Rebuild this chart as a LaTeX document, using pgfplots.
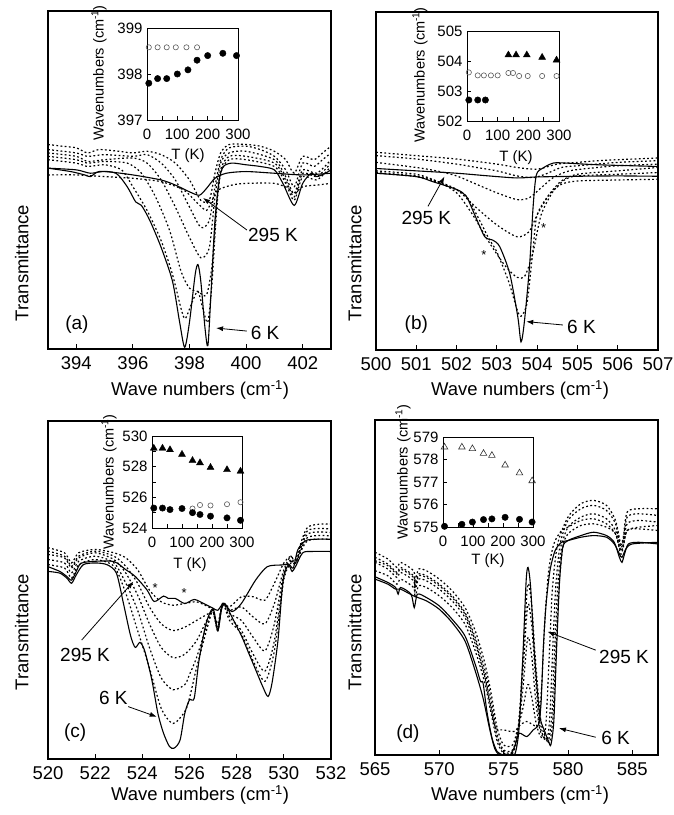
\documentclass[border=0pt]{standalone}
\usepackage{fontspec}
\setmainfont{Liberation Sans}
\usepackage{pgfplots}
\pgfplotsset{compat=1.18}
\usetikzlibrary{arrows.meta}

\tikzset{
  sol/.style={black, line width=1.1pt, mark=none, smooth, tension=0.45},
  dt/.style={black, line width=1.2pt, mark=none, dash pattern=on 1.8pt off 2.4pt, smooth, tension=0.45},
  ann/.style={font=\fontsize{19}{21}\selectfont},
  arr/.style={-{Latex[length=7pt,width=5pt]}, line width=0.8pt},
  star/.style={font=\fontsize{13}{14}\selectfont},
}
\pgfplotsset{
  mainax/.style={
    scale only axis, ymin=0, ymax=100, ytick=\empty,
    xtick pos=left, tick align=inside, major tick length=5pt,
    axis line style={line width=1.1pt},
    every tick/.style={black, line width=0.9pt},
    tick label style={font=\fontsize{18.5}{20}\selectfont},
    xticklabel style={yshift=-4.5pt},
    /pgf/number format/assume math mode=true,
    /pgf/number format/1000 sep={},
    clip mode=individual,
  },
  inset/.style={
    scale only axis, xmin=0, xmax=300, xtick={0,100,200,300}, minor xtick={50,150,250},
    xtick pos=left, ytick pos=left, tick align=inside,
    major tick length=4pt, minor tick length=4pt,
    axis line style={line width=0.9pt},
    every tick/.style={black, line width=0.7pt},
    tick label style={font=\fontsize{15}{16}\selectfont},
    xticklabel style={yshift=-5pt},
    yticklabel style={xshift=-1pt},
    /pgf/number format/assume math mode=true,
    /pgf/number format/1000 sep={},
    clip=false,
  },
  fc/.style={only marks, mark=*, mark size=3.2pt, black},
  oc/.style={only marks, mark=o, mark size=2.6pt, black!65, mark options={line width=0.6pt}},
  ft/.style={only marks, mark=triangle*, mark size=4pt, black},
  ot/.style={only marks, mark=triangle, mark size=3.8pt, black!80, mark options={line width=0.6pt}},
}

\begin{document}
\begin{tikzpicture}
\path[use as bounding box] (0pt,0pt) rectangle (673pt,815pt);

% ================= (a) =================
\begin{axis}[mainax, at={(48pt,466pt)}, anchor=south west, width=283pt, height=338pt,
  xmin=393, xmax=403, xtick={394,396,398,400,402}]
\addplot[sol] coordinates {(393,53.5)(393.8,52.5)(394.3,51.5)(394.5,51)(394.8,52.5)(395.4,52)(395.8,48)(396.1,43.5)(396.3,42.5)(396.6,38)(397.0,30)(397.4,20)(397.65,8)(397.83,0.5)(398.0,8)(398.2,22)(398.3,25)(398.4,20)(398.55,6)(398.65,1)(398.75,15)(398.9,38)(399.05,50)(399.2,54)(399.5,55)(400.0,54.5)(400.5,54)(401.0,53)(401.3,49)(401.7,42.5)(402.0,49)(402.3,52)(402.5,51)(402.8,52)(403,53)};
\addplot[sol] coordinates {(393,53.5)(394,53)(394.5,52)(395,52.5)(396,51.5)(397,50)(397.5,48.5)(398,46.5)(398.35,45.5)(398.6,47.5)(398.9,50.5)(399.3,52)(400,52.5)(401,52)(402,51.5)(403,52)};
\addplot[dt] coordinates {(393,60.5)(393.5,60)(394,59.5)(394.4,58)(394.8,59)(395.5,58.5)(396,58)(396.5,58.5)(397,57.5)(397.5,55)(398,50)(398.4,44)(398.7,44)(398.9,52)(399.1,58)(399.4,60.5)(400,60.5)(400.5,60)(401,58.5)(401.4,56)(401.7,52)(402,57)(402.4,56)(402.7,58)(403,60)};
\addplot[dt] coordinates {(393,59)(394,58)(394.4,57)(395,57.5)(396,57)(396.5,57.5)(397,55)(397.5,50)(398,42)(398.4,36)(398.7,38)(398.9,48)(399.1,56)(399.4,59.5)(400,60)(400.5,59)(401,57)(401.4,53)(401.7,48)(402,55)(402.4,54)(402.7,56)(403,58)};
\addplot[dt] coordinates {(393,58)(394,57)(394.4,55.5)(395,56)(396,56.5)(396.5,55)(397,50)(397.5,42)(398,33)(398.4,27)(398.7,30)(398.9,45)(399.1,55)(399.4,58)(400,58.5)(401,56)(401.4,51)(401.7,46)(402,53)(402.5,52)(403,56)};
\addplot[dt] coordinates {(393,57)(394,56)(394.4,55)(395,55.5)(395.8,55)(396.3,52)(396.8,45)(397.3,35)(397.7,23)(398.0,18)(398.3,17)(398.6,16)(398.8,25)(398.95,42)(399.1,53)(399.4,57)(400,57)(401,55)(401.4,50)(401.7,45)(402,52)(402.5,51)(403,55)};
\addplot[dt] coordinates {(393,56)(394,55)(394.4,54)(395,54.5)(395.6,53)(396,48)(396.5,41)(397,32)(397.4,22)(397.7,12)(397.85,9)(398.1,14)(398.3,17)(398.5,11)(398.65,8)(398.8,20)(398.95,40)(399.1,52)(399.4,56)(400,56)(401,54)(401.4,49)(401.7,44)(402,51)(402.5,50)(403,54)};
\addplot[dt] coordinates {(393,51.5)(394,51.5)(395,51)(396,50.5)(397,49.5)(397.8,47)(398.3,43)(398.6,41)(398.8,44)(399.0,47)(399.5,48.5)(400,49)(401,49)(401.5,47.5)(401.7,46)(402,48)(402.5,48.5)(403,49)};
\node[ann] at (axis cs:394.02,7.1) {(a)};
\node[ann] at (axis cs:400.95,33.7) {295 K};
\draw[arr] (axis cs:400.03,35.2) -- (axis cs:398.48,44.7);
\node[ann] at (axis cs:400.67,4.7) {6 K};
\draw[arr] (axis cs:400.03,5.3) -- (axis cs:398.94,6.2);
\end{axis}

% ================= (b) =================
\begin{axis}[mainax, at={(376pt,465pt)}, anchor=south west, width=282pt, height=338pt,
  xmin=500, xmax=507, xtick={500,501,502,503,504,505,506,507}]
\addplot[sol] coordinates {(500,52.3)(501,51.3)(501.41,49.8)(502.0,47.5)(502.24,45.5)(502.45,40)(502.7,33.5)(502.9,32.5)(503.07,30.6)(503.32,22.6)(503.52,9.8)(503.6,2.4)(503.68,8)(503.81,24.6)(503.9,42.4)(503.98,51.8)(504.14,53.8)(504.4,55.3)(504.72,55.3)(505.5,54.8)(507,54.3)};
\addplot[sol] coordinates {(500,53.7)(501,53)(502,52.3)(502.8,51.5)(503.5,50.9)(504,51.2)(505,51.4)(506,51.5)(507,51.4)};
\addplot[dt] coordinates {(500,58.5)(501,57.5)(502,56.5)(503,55)(503.5,54)(504,53.5)(504.5,55)(505,55.5)(505.5,56)(506,56.3)(507,56.8)};
\addplot[dt] coordinates {(500,57.5)(501,56.5)(502,55)(502.5,54)(503,53)(503.5,51.5)(503.9,51)(504.2,52)(504.6,54)(505,54.5)(506,55.5)(507,56)};
\addplot[dt] coordinates {(500,55.5)(501,54)(501.5,53)(502,51.5)(502.5,49)(503,46.5)(503.5,44.5)(503.8,45)(504.1,48)(504.4,51)(504.8,53)(505.5,54)(506,54.5)(507,55)};
\addplot[dt] coordinates {(500,53)(501,52)(501.5,50)(502,47.5)(502.5,42)(503,37)(503.5,33.5)(503.8,35)(504.0,40)(504.3,46)(504.6,50)(505,52)(506,53)(507,54)};
\addplot[dt] coordinates {(500,52.5)(501,51.5)(501.5,50)(502,46.5)(502.4,40)(502.8,32)(503.2,25)(503.5,21.5)(503.7,22)(503.9,29)(504.1,40)(504.4,47)(504.7,50.5)(505,51.5)(506,52)(507,52.5)};
\addplot[dt] coordinates {(500,52.3)(501,51.3)(501.6,49.3)(502.2,46)(502.5,40)(502.8,33)(503.0,29)(503.3,20)(503.5,12)(503.6,10)(503.75,14)(503.9,30)(504.0,40)(504.3,46)(504.6,49)(505,50)(506,50.3)(507,50.5)};
\node[ann] at (axis cs:501.0,7.4) {(b)};
\node[ann] at (axis cs:501.25,39) {295 K};
\draw[arr] (axis cs:501.29,42.5) -- (axis cs:501.7,51.3);
\node[ann] at (axis cs:505.1,6.9) {6 K};
\draw[arr] (axis cs:504.64,7.4) -- (axis cs:503.73,8.4);
\node[star] at (axis cs:502.68,28.1) {*};
\node[star] at (axis cs:504.16,36.2) {*};
\end{axis}

% ================= (c) =================
\begin{axis}[mainax, at={(48pt,56pt)}, anchor=south west, width=283pt, height=338pt,
  xmin=520, xmax=532, xtick={520,522,524,526,528,530,532}]
\addplot[sol] coordinates {(520,55.5)(520.5,55)(520.8,53.5)(521.0,52)(521.2,54.5)(521.5,57.5)(522,58)(522.5,57.5)(522.9,55)(523.2,46)(523.5,36.5)(523.7,33)(523.9,34.5)(524.1,32)(524.4,23.5)(524.66,13.5)(524.9,7.6)(525.15,3.7)(525.35,3.2)(525.6,5.6)(525.8,13.5)(526.0,17.5)(526.2,18)(526.4,29)(526.7,40)(527.0,44.5)(527.2,38)(527.35,44)(527.5,46)(527.8,42)(528.2,36.5)(528.5,31.5)(528.8,26.5)(529.1,21.5)(529.33,18.5)(529.5,22.5)(529.75,35)(529.97,53)(530.2,57.5)(530.4,56.5)(530.6,62)(531,64.8)(532,65)};
\addplot[sol] coordinates {(520,56.9)(520.5,55.5)(520.8,54)(521.0,52.9)(521.2,55.5)(521.4,57.9)(522,58.5)(522.8,58.4)(523.3,56)(523.7,54)(524.2,50)(524.5,46.6)(524.9,48.2)(525.1,47.5)(525.4,47.5)(525.8,46)(526.2,47.2)(526.6,46)(527.0,44.6)(527.2,44)(527.45,46)(527.8,43.6)(528.2,46)(528.8,52.9)(529.3,56.9)(529.9,57.4)(530.2,57.5)(530.35,55.5)(530.5,57)(530.8,61)(531.2,61.4)(532,61.4)};
\addplot[dt] coordinates {(520,62.5)(520.7,61)(521.0,58)(521.3,61)(522,62)(522.8,61)(523.3,59.5)(523.8,56)(524.3,50)(524.8,46.5)(525.3,45.5)(525.8,46)(526.3,46.5)(526.8,45)(527.0,44)(527.2,40)(527.4,46)(527.7,45)(528.2,48)(528.7,48)(529.2,47)(529.6,52)(530.0,58)(530.3,60)(530.5,59)(531,68.5)(532,69.5)};
\addplot[dt] coordinates {(520,61.5)(520.7,60)(521.0,57)(521.3,60)(522,61.5)(522.8,60)(523.3,57)(523.8,52)(524.3,45)(524.8,40)(525.3,38)(525.8,39)(526.3,41)(526.8,43)(527.0,43.5)(527.2,39)(527.4,46)(527.7,44)(528.2,45)(528.7,42)(529.2,40)(529.6,46)(530.0,56)(530.3,60)(530.5,58)(531,67.5)(532,68)};
\addplot[dt] coordinates {(520,60.5)(520.7,59.5)(521.0,56.5)(521.3,59.5)(522,61)(522.8,59)(523.3,55)(523.8,48.5)(524.3,40)(524.8,33)(525.3,30)(525.8,31)(526.3,35)(526.8,42)(527.0,43.5)(527.2,38)(527.4,46)(527.7,43)(528.2,41)(528.7,36)(529.2,32)(529.6,40)(530.0,55)(530.3,59)(530.5,58)(531,66.5)(532,67)};
\addplot[dt] coordinates {(520,59)(520.7,58)(521.0,55)(521.3,58.5)(522,60)(522.8,58)(523.3,52)(523.8,44)(524.3,33)(524.8,24)(525.3,20.5)(525.8,22)(526.0,25)(526.3,30)(526.8,41)(527.0,44)(527.2,38)(527.4,46)(527.7,42)(528.2,38)(528.7,31)(529.2,26)(529.6,35)(530.0,54)(530.3,58.5)(530.5,58)(531,65.5)(532,66)};
\addplot[dt] coordinates {(520,57.5)(520.7,56.5)(521.0,53.5)(521.3,57.5)(522,59)(522.8,57)(523.3,49)(523.8,38)(524.3,27)(524.8,15)(525.3,10.5)(525.8,14)(526.0,18)(526.3,27)(526.8,40)(527.0,44)(527.2,38)(527.4,46)(527.7,41)(528.2,37)(528.7,29)(529.2,23)(529.6,32)(530.0,53)(530.3,58)(530.5,58)(531,64.5)(532,65)};
\node[ann] at (axis cs:521.15,7.7) {(c)};
\node[ann] at (axis cs:521.57,30.8) {295 K};
\draw[arr] (axis cs:521.43,35.2) -- (axis cs:523.62,52.5);
\node[ann] at (axis cs:522.77,18) {6 K};
\draw[arr] (axis cs:523.4,15.5) -- (axis cs:524.61,12.5);
\node[star] at (axis cs:524.54,50.7) {*};
\node[star] at (axis cs:525.77,49) {*};
\end{axis}

% ================= (d) =================
\begin{axis}[mainax, at={(375pt,60pt)}, anchor=south west, width=283pt, height=335pt,
  xmin=565, xmax=587, xtick={565,570,575,580,585}]
\addplot[sol] coordinates {(565,53.2)(566,51.5)(566.6,50)(566.8,48)(567,50)(567.8,48)(568.05,44)(568.3,48)(569,47)(570,44.5)(571,40.5)(572,35.5)(572.8,27)(573.2,22)(573.4,21.5)(573.7,13)(574.1,5)(574.5,1)(575,0)(575.5,0)(575.9,0.5)(576.2,8)(576.5,30)(576.75,52)(576.9,56)(577.1,50)(577.4,30)(577.8,12)(578.2,7)(578.5,4)(578.67,3)(578.9,10)(579.1,30)(579.35,52)(579.6,62)(580,64)(581,65.5)(582,66.5)(583,65.5)(583.6,63.5)(584,59)(584.2,57.5)(584.4,60)(584.7,63)(585.5,63.5)(587,63)};
\addplot[sol] coordinates {(565,52.5)(566,51)(566.6,49.5)(567,49.5)(568,47.5)(569,46)(570,43.5)(571,39.5)(572,34)(572.8,25)(573.4,17)(573.9,8)(574.3,2)(574.7,0)(575.5,0)(575.9,3)(576.2,6.5)(576.8,5.5)(577.3,7.5)(577.7,9)(577.9,15)(578.1,33)(578.3,45)(578.6,55)(579,61)(579.5,63.5)(580,64)(581,65)(582,65.5)(583,65)(583.6,63)(584,60)(584.2,59)(584.5,61.5)(585,63)(587,63.5)};
\addplot[dt] coordinates {(565,55)(566,53.5)(566.7,51)(567,52.5)(568,50)(568.1,47)(568.4,50.5)(569,50)(570,47.5)(571,44)(572,39)(572.8,31)(573.5,22)(574,13)(574.5,4)(575,0.5)(575.7,0.5)(576.1,6)(576.5,28)(576.8,48)(576.95,51)(577.2,44)(577.5,27)(577.9,10)(578.3,5)(578.6,4)(578.85,12)(579.05,30)(579.3,50)(579.6,62)(580,66)(581,68.5)(582,69)(583,68)(583.7,66)(584.1,60)(584.3,62)(584.6,67)(585.5,67.5)(587,67)};
\addplot[dt] coordinates {(565,57.5)(566,55.5)(566.7,53)(567,54.5)(568,52)(568.1,49)(568.4,52.5)(569,52)(570,49.5)(571,46)(572,41)(572.8,33)(573.5,24)(574,15)(574.5,5)(575,1)(575.7,1)(576.1,7)(576.5,25)(576.8,42)(576.95,45)(577.2,38)(577.5,22)(577.8,9)(578.2,5)(578.5,4.5)(578.75,12)(578.95,30)(579.2,50)(579.5,62)(580,68)(581,71)(582,72)(583,70.5)(583.7,67)(584.1,61)(584.3,63)(584.6,69)(585.5,70)(587,69.5)};
\addplot[dt] coordinates {(565,59)(566,57)(566.7,54.5)(567,56)(568,53.5)(568.1,50.5)(568.4,54)(569,53.5)(570,51)(571,47.5)(572,42.5)(572.8,35)(573.5,26)(574,17)(574.5,6)(575,1.5)(575.7,1.5)(576.1,7)(576.5,20)(576.8,33)(576.95,35)(577.2,29)(577.5,16)(577.8,8)(578.1,5)(578.4,5)(578.6,12)(578.8,30)(579.05,50)(579.4,63)(580,70)(581,73.5)(582,74.5)(583,73)(583.7,69)(584.1,62)(584.3,64)(584.6,71)(585.5,72)(587,71.5)};
\addplot[dt] coordinates {(565,60.5)(566,58.5)(566.7,56)(567,57.5)(568,55)(568.1,52)(568.4,55.5)(569,55)(570,52.5)(571,49)(572,44)(572.8,37)(573.5,28)(574,19)(574.5,8)(575,3)(575.7,3)(576.1,8)(576.5,14)(576.8,20)(576.95,21)(577.2,17)(577.5,10)(577.8,6)(578.1,5)(578.3,10)(578.55,30)(578.8,50)(579.2,63)(580,71)(581,75)(582,76)(583,74.5)(583.7,70)(584.1,63)(584.3,65)(584.6,72.5)(585.5,73.5)(587,73.5)};
\addplot[dt] coordinates {(565,58)(566,56.5)(566.7,54)(567,55.5)(568,53)(568.1,50)(568.4,53.5)(569,53)(570,50.5)(571,47)(572,42)(572.8,34)(573.5,24)(574,14)(574.4,8)(575,7.5)(575.8,7)(576.3,9)(576.8,10)(577.3,9)(577.7,9)(577.95,20)(578.2,40)(578.5,55)(578.9,63)(579.5,67)(580,68)(581,70)(582,70.5)(583,69)(583.7,66)(584.1,61)(584.3,62.5)(584.6,67)(585.5,68)(587,68.5)};
\node[ann] at (axis cs:567.56,6.5) {(d)};
\node[ann] at (axis cs:584.36,29.3) {295 K};
\draw[arr] (axis cs:582.16,31.3) -- (axis cs:578.41,36.8);
\node[ann] at (axis cs:583.7,5) {6 K};
\draw[arr] (axis cs:582.16,5.3) -- (axis cs:579.3,8);
\end{axis}

% ================= insets =================
\begin{axis}[inset, at={(147pt,695pt)}, anchor=south west, width=91pt, height=92pt,
  ymin=397, ymax=399, ytick={397,398,399}]
\addplot[oc] coordinates {(6,398.58)(35,398.58)(65,398.58)(95,398.58)(130,398.58)(165,398.58)};
\addplot[fc] coordinates {(6,397.8)(35,397.9)(65,397.9)(100,398.0)(135,398.09)(165,398.3)(200,398.4)(250,398.45)(295,398.4)};
\end{axis}

\begin{axis}[inset, at={(467pt,694pt)}, anchor=south west, width=92pt, height=90pt,
  ymin=502, ymax=505, ytick={502,503,504,505}]
\addplot[oc] coordinates {(6,503.62)(35,503.52)(55,503.52)(78,503.52)(100,503.52)(135,503.6)(150,503.6)(170,503.5)(198,503.5)(245,503.5)(292,503.5)};
\addplot[fc] coordinates {(6,502.7)(35,502.7)(60,502.7)};
\addplot[ft] coordinates {(135,504.2)(160,504.2)(195,504.2)(245,504.12)(292,504.03)};
\end{axis}

\begin{axis}[inset, at={(152pt,287pt)}, anchor=south west, width=90pt, height=92pt,
  ymin=524, ymax=530, ytick={524,526,528,530}, minor ytick={525,527,529}]
\addplot[oc] coordinates {(135,525.27)(160,525.5)(195,525.47)(250,525.55)(295,525.68)};
\addplot[fc] coordinates {(6,525.3)(35,525.3)(60,525.2)(100,525.27)(135,525.0)(160,524.88)(195,524.77)(250,524.66)(295,524.5)};
\addplot[ft] coordinates {(6,529.2)(35,529.2)(60,529.1)(100,528.8)(135,528.4)(160,528.25)(195,527.95)(250,527.8)(295,527.7)};
\end{axis}

\begin{axis}[inset, at={(443pt,288pt)}, anchor=south west, width=90pt, height=90pt,
  ymin=575, ymax=579, ytick={575,576,577,578,579}]
\addplot[ot] coordinates {(5,578.55)(63,578.55)(98,578.48)(135,578.27)(163,578.18)(207,577.75)(255,577.4)(297,577.05)};
\addplot[fc] coordinates {(5,575.03)(63,575.12)(98,575.22)(135,575.33)(163,575.36)(207,575.43)(255,575.34)(297,575.22)};
\end{axis}

% ================= labels =================
\begin{scope}[every node/.style={font=\fontsize{18.5}{20}\selectfont}]
\node[rotate=90] at (21.7pt,552pt) {Transmittance};
\node[rotate=90] at (354.7pt,552pt) {Transmittance};
\node[rotate=90] at (21.7pt,183pt) {Transmittance};
\node[rotate=90] at (354.7pt,183pt) {Transmittance};
\node at (200pt,425pt) {Wave numbers (cm\textsuperscript{-1})};
\node at (520pt,425pt) {Wave numbers (cm\textsuperscript{-1})};
\node at (200pt,20pt) {Wave numbers (cm\textsuperscript{-1})};
\node at (520pt,20pt) {Wave numbers (cm\textsuperscript{-1})};
\end{scope}
\begin{scope}[every node/.style={font=\fontsize{14.5}{16}\selectfont}]
\node[rotate=90] at (99pt,742pt) {Wavenumbers (cm\textsuperscript{-1})};
\node[rotate=90] at (420pt,740pt) {Wavenumbers (cm\textsuperscript{-1})};
\node[rotate=90] at (109pt,333pt) {Wavenumbers (cm\textsuperscript{-1})};
\node[rotate=90] at (403pt,343pt) {Wavenumbers (cm\textsuperscript{-1})};
\end{scope}
\begin{scope}[every node/.style={font=\fontsize{15}{16}\selectfont}]
\node at (188pt,659pt) {T (K)};
\node at (516pt,657pt) {T (K)};
\node at (190pt,250pt) {T (K)};
\node at (488pt,254pt) {T (K)};
\end{scope}
\end{tikzpicture}
\end{document}
